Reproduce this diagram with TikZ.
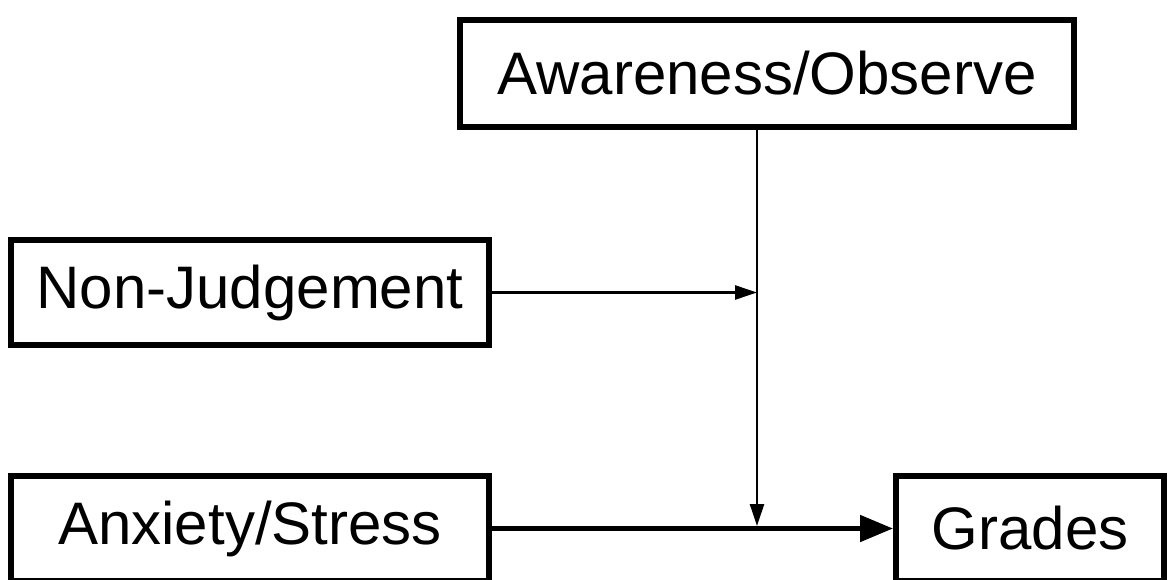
\documentclass[tikz,border=0pt]{standalone}
\usepackage{fontspec}
\setmainfont{Liberation Sans}
\usetikzlibrary{arrows.meta,calc}
\begin{document}
\begin{tikzpicture}[x=1pt,y=-1pt,
  box/.style={draw=black,line width=6pt,fill=white,inner sep=0pt,
    font=\fontsize{60}{72}\selectfont,text=black,minimum height=105pt},
  thin/.style={line width=2.5pt,-{Triangle[length=22pt,width=14pt]}},
  thick/.style={line width=5pt,-{Triangle[length=33pt,width=26pt]}}]
\useasboundingbox (0,0) rectangle (1175,580);
\fill[white] (0,0) rectangle (1175,580);
\node[box,minimum width=614pt,minimum height=107pt] (aw) at (767,73.5) {Awareness/Observe};
\node[box,minimum width=478pt] (nj) at (250,292.5) {Non-Judgement};
\node[box,minimum width=478pt] (ax) at (250,528.5) {Anxiety/Stress};
\node[box,minimum width=268pt] (gr) at (1030,528.5) {Grades};
\coordinate (j) at (757,526);
\draw[thick] (ax.east) -- (gr.west);
\draw[thin] (aw.south -| j) -- (j);
\draw[thin] (nj.east) -- (nj.east -| j);
\end{tikzpicture}
\end{document}
